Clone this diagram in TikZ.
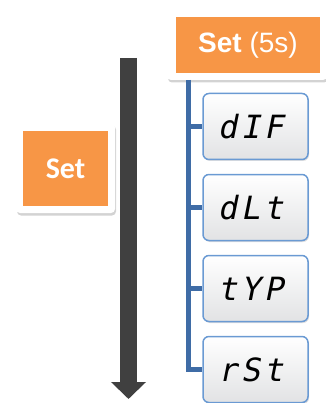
\documentclass[tikz,border=0pt]{standalone}
\usepackage{fontspec}
\usetikzlibrary{arrows.meta,shadows}
\newfontfamily\calib{Carlito}
\newfontfamily\arialf{Liberation Sans}
\newfontfamily\segf[FakeSlant=0.2,LetterSpace=12]{DejaVu Sans Mono}
\definecolor{orangeset}{HTML}{F79646}
\definecolor{arrowgray}{HTML}{404040}
\definecolor{treeblue}{HTML}{3F6CA6}
\definecolor{boxblue}{HTML}{6A9AD3}
\definecolor{boxfill}{HTML}{F3F4F6}
\newcommand{\segtext}[1]{#1\kern10pt}
\tikzset{
  card/.style={draw=none, fill=white, rounded corners=4pt, drop shadow={opacity=0.35, shadow xshift=1pt, shadow yshift=-2.5pt}},
  orangebox/.style={fill=orangeset, inner sep=0pt, text=white},
  parambox/.style={draw=boxblue, line width=1.5pt, rounded corners=6pt, top color=white, bottom color=boxfill!85!gray, minimum width=105pt, minimum height=66pt, inner sep=0pt, font=\segf\fontsize{32}{32}\selectfont, drop shadow={opacity=0.25, shadow xshift=1pt, shadow yshift=-1.5pt}},
  treeline/.style={draw=treeblue, line width=5pt},
}
\begin{document}
\begin{tikzpicture}[x=1pt,y=-1pt]
\useasboundingbox (0,0) rectangle (325,403);
% main arrow
\coordinate (atop) at (128.5,58);
\coordinate (abot) at (128.5,399);
\draw[arrowgray, line width=17pt, -{Triangle[width=34pt,length=17pt]}] (atop) -- (abot);
% left Set card
\node[card, minimum width=99pt, minimum height=90pt] (lcard) at (65.5,168) {};
\node[orangebox, minimum width=85pt, minimum height=75pt, font=\calib\bfseries\fontsize{30}{30}\selectfont] (lset) at (65.5,168.5) {Set};
% top Set card
\node[card, minimum width=160pt, minimum height=70pt] (tcard) at (247,45) {};
\node[orangebox, minimum width=144pt, minimum height=56pt, font=\arialf\fontsize{28}{28}\selectfont] (tset) at (248,45) {\textbf{Set} (5s)};
% parameter boxes
\node[parambox] (p1) at (255.5,126.5) {\segtext{dIF}};
\node[parambox] (p2) at (255.5,207.5) {\segtext{dLt}};
\node[parambox] (p3) at (255.5,288.5) {\segtext{tYP}};
\node[parambox] (p4) at (255.5,369.5) {\segtext{rSt}};
% tree
\coordinate (ttop) at (188,80);
\draw[treeline] (ttop) |- (p4.west);
\draw[treeline] (ttop |- p1.west) -- (p1.west);
\draw[treeline] (ttop |- p2.west) -- (p2.west);
\draw[treeline] (ttop |- p3.west) -- (p3.west);
\end{tikzpicture}
\end{document}
